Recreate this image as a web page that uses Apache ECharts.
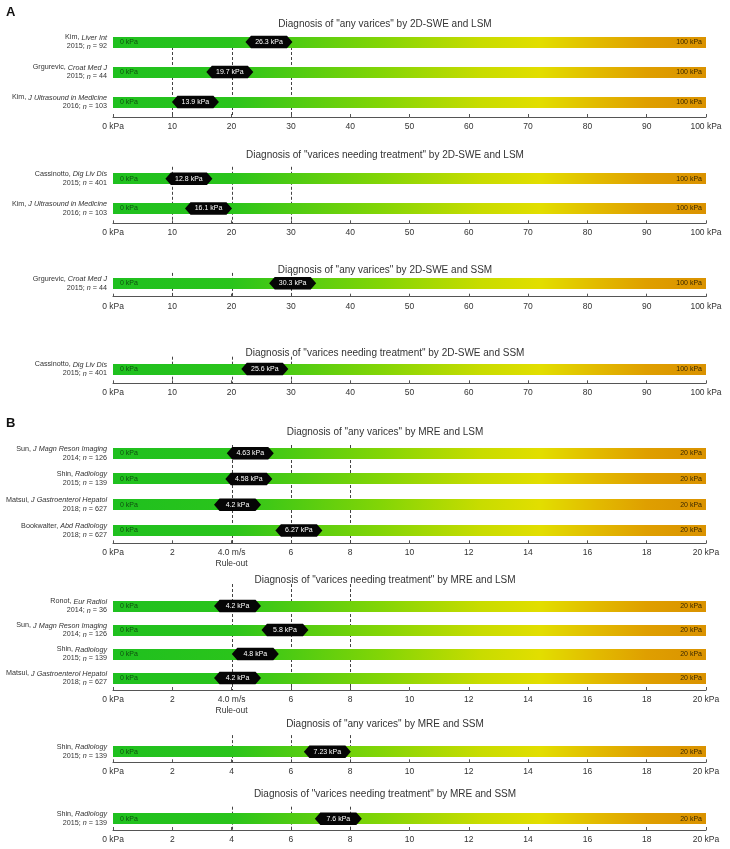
<!DOCTYPE html>
<html><head><meta charset="utf-8">
<script src="https://cdn.jsdelivr.net/npm/echarts@6/dist/echarts.min.js"></script>
<style>html,body{margin:0;padding:0;background:#fff}#c{width:730px;height:849px}</style>
</head><body><div id="c"></div>
<script>
// ---------- DATA ----------
const panelTitles = [
  'Diagnosis of "any varices" by 2D-SWE and LSM',
  'Diagnosis of "varices needing treatment" by 2D-SWE and LSM',
  'Diagnosis of "any varices" by 2D-SWE and SSM',
  'Diagnosis of "varices needing treatment" by 2D-SWE and SSM',
  'Diagnosis of "any varices" by MRE and LSM',
  'Diagnosis of "varices needing treatment" by MRE and LSM',
  'Diagnosis of "any varices" by MRE and SSM',
  'Diagnosis of "varices needing treatment" by MRE and SSM'
];
// [author, journal, year, n]
const p1Studies = [['Kim','Liver Int','2015','92'],['Grgurevic','Croat Med J','2015','44'],['Kim','J Ultrasound in Medicine','2016','103']];
const p1Cutoffs = [26.3, 19.7, 13.9];
const p2Studies = [['Cassinotto','Dig Liv Dis','2015','401'],['Kim','J Ultrasound in Medicine','2016','103']];
const p2Cutoffs = [12.8, 16.1];
const p3Studies = [['Grgurevic','Croat Med J','2015','44']];
const p3Cutoffs = [30.3];
const p4Studies = [['Cassinotto','Dig Liv Dis','2015','401']];
const p4Cutoffs = [25.6];
const p5Studies = [['Sun','J Magn Reson Imaging','2014','126'],['Shin','Radiology','2015','139'],['Matsui','J Gastroenterol Hepatol','2018','627'],['Bookwalter','Abd Radiology','2018','627']];
const p5Cutoffs = [4.63, 4.58, 4.2, 6.27];
const p6Studies = [['Ronot','Eur Radiol','2014','36'],['Sun','J Magn Reson Imaging','2014','126'],['Shin','Radiology','2015','139'],['Matsui','J Gastroenterol Hepatol','2018','627']];
const p6Cutoffs = [4.2, 5.8, 4.8, 4.2];
const p7Studies = [['Shin','Radiology','2015','139']];
const p7Cutoffs = [7.23];
const p8Studies = [['Shin','Radiology','2015','139']];
const p8Cutoffs = [7.6];

const sweMax = 100, sweStep = 10, sweRefLines = [10, 20, 30];
const mreMax = 20, mreStep = 2, mreRefLines = [4, 6, 8];
const ruleOutTick = 4, ruleOutLabel = '4.0 m/s\nRule-out';
const panelLetters = ['A', 'B'];

// ---------- LAYOUT ----------
const panels = [
  {studies:p1Studies, cutoffs:p1Cutoffs, max:sweMax, step:sweStep, refs:sweRefLines, ruleOut:false, top:27,    h:90,   titleY:24,  dash:15},
  {studies:p2Studies, cutoffs:p2Cutoffs, max:sweMax, step:sweStep, refs:sweRefLines, ruleOut:false, top:163.8, h:59.5, titleY:155, dash:3},
  {studies:p3Studies, cutoffs:p3Cutoffs, max:sweMax, step:sweStep, refs:sweRefLines, ruleOut:false, top:269.9, h:26.8, titleY:270, dash:3},
  {studies:p4Studies, cutoffs:p4Cutoffs, max:sweMax, step:sweStep, refs:sweRefLines, ruleOut:false, top:354.7, h:28.6, titleY:353, dash:2},
  {studies:p5Studies, cutoffs:p5Cutoffs, max:mreMax, step:mreStep, refs:mreRefLines, ruleOut:true,  top:440.4, h:102.9,titleY:432, dash:4.6},
  {studies:p6Studies, cutoffs:p6Cutoffs, max:mreMax, step:mreStep, refs:mreRefLines, ruleOut:true,  top:594,   h:96,   titleY:580, dash:-10},
  {studies:p7Studies, cutoffs:p7Cutoffs, max:mreMax, step:mreStep, refs:mreRefLines, ruleOut:false, top:741.1, h:21.2, titleY:724, dash:-6},
  {studies:p8Studies, cutoffs:p8Cutoffs, max:mreMax, step:mreStep, refs:mreRefLines, ruleOut:false, top:807.4, h:22.6, titleY:794, dash:-0.7}
];
const letterY = [12, 423];

const FONT = '"Liberation Sans", Arial, sans-serif';
const barStops = [
  {offset:0, color:'#1fc01f'}, {offset:0.2, color:'#2ac41b'}, {offset:0.45, color:'#82d506'},
  {offset:0.62, color:'#c8dc00'}, {offset:0.72, color:'#e2de00'}, {offset:0.82, color:'#e2b900'},
  {offset:0.9, color:'#df9f00'}, {offset:1, color:'#da9200'}
];

const chart = echarts.init(document.getElementById('c'), null, {renderer:'canvas'});
const grids = [], xAxes = [], yAxes = [], series = [], graphics = [];

panels.forEach((p, i) => {
  grids.push({left:113, right:24, top:p.top, height:p.h});
  xAxes.push({
    type:'value', gridIndex:i, min:0, max:p.max, interval:p.step,
    axisLine:{show:true, lineStyle:{color:'#555', width:1}},
    axisTick:{show:true, inside:true, length:3, lineStyle:{color:'#555'}},
    splitLine:{show:false},
    axisLabel:{
      fontFamily:FONT, fontSize:8.5, color:'#333', margin:4, lineHeight:11,
      showMinLabel:true, showMaxLabel:true,
      formatter: v => v === 0 ? '0 kPa' : (v === p.max ? p.max + ' kPa' : (p.ruleOut && v === ruleOutTick ? ruleOutLabel : String(v)))
    }
  });
  yAxes.push({
    type:'category', gridIndex:i, inverse:true,
    data: p.studies.map((s, k) => String(k)),
    axisLine:{show:false}, axisTick:{show:false}, splitLine:{show:false},
    axisLabel:{
      margin:6, lineHeight:9,
      formatter: (v) => {
        const s = p.studies[+v];
        return '{n|' + s[0] + ', }{i|' + s[1] + '}\n{n|' + s[2] + '; }{i|n}{n| = ' + s[3] + '}';
      },
      rich:{
        n:{fontFamily:FONT, fontSize:7.2, color:'#333', align:'right', lineHeight:9},
        i:{fontFamily:FONT, fontSize:7.2, color:'#333', fontStyle:'italic', align:'right', lineHeight:9}
      }
    }
  });
  // dashed reference lines
  series.push({
    type:'custom', xAxisIndex:i, yAxisIndex:i, z:1, silent:true,
    data: p.refs.map(v => [v, 0]), encode:{x:0, y:1},
    renderItem: (params, api) => {
      const x = Math.round(api.coord([api.value(0), 0])[0]) + 0.5;
      const cs = params.coordSys;
      return {type:'line', shape:{x1:x, y1:cs.y + p.dash, x2:x, y2:cs.y + cs.height},
        style:{stroke:'#444', lineWidth:1, lineDash:[3, 2]}};
    }
  });
  // gradient bars
  series.push({
    type:'custom', xAxisIndex:i, yAxisIndex:i, z:2, silent:true,
    data: p.studies.map((s, k) => [p.max, k]), encode:{x:0, y:1},
    renderItem: (params, api) => {
      const k = api.value(1);
      const s = api.coord([0, k]), e = api.coord([api.value(0), k]);
      const h = 11;
      return {type:'group', children:[
        {type:'rect', shape:{x:s[0], y:Math.round(s[1] - h/2), width:e[0] - s[0], height:h},
          style:{fill:new echarts.graphic.LinearGradient(0, 0, 1, 0, barStops)}},
        {type:'text', x:s[0] + 7, y:s[1], style:{text:'0 kPa', fill:'#0f4f10', fontSize:7, fontFamily:FONT, align:'left', verticalAlign:'middle'}},
        {type:'text', x:e[0] - 4, y:s[1], style:{text:api.value(0) + ' kPa', fill:'#3a2800', fontSize:7, fontFamily:FONT, align:'right', verticalAlign:'middle'}}
      ]};
    }
  });
  // cutoff hexagons
  series.push({
    type:'custom', xAxisIndex:i, yAxisIndex:i, z:3, silent:true,
    data: p.cutoffs.map((c, k) => [c, k]), encode:{x:0, y:1},
    renderItem: (params, api) => {
      const pt = api.coord([api.value(0), api.value(1)]);
      const w = 23.5, h = 6.3, t = 5.5, cx = pt[0], cy = pt[1];
      return {type:'group', children:[
        {type:'polygon', shape:{points:[[cx - w, cy], [cx - w + t, cy - h], [cx + w - t, cy - h], [cx + w, cy], [cx + w - t, cy + h], [cx - w + t, cy + h]]},
          style:{fill:'#050505'}},
        {type:'text', x:cx, y:cy, style:{text:api.value(0) + ' kPa', fill:'#fff', fontSize:7, fontFamily:FONT, align:'center', verticalAlign:'middle'}}
      ]};
    }
  });
  graphics.push({type:'text', x:385, y:p.titleY, style:{text:panelTitles[i], fill:'#333', fontSize:10, fontFamily:FONT, align:'center', verticalAlign:'middle'}});
});
panelLetters.forEach((L, j) => {
  graphics.push({type:'text', x:6, y:letterY[j], style:{text:L, fill:'#111', fontSize:13, fontWeight:'bold', fontFamily:FONT, align:'left', verticalAlign:'middle'}});
});

chart.setOption({
  animation:false, backgroundColor:'#fff',
  grid:grids, xAxis:xAxes, yAxis:yAxes, series:series, graphic:graphics
});
</script></body></html>
